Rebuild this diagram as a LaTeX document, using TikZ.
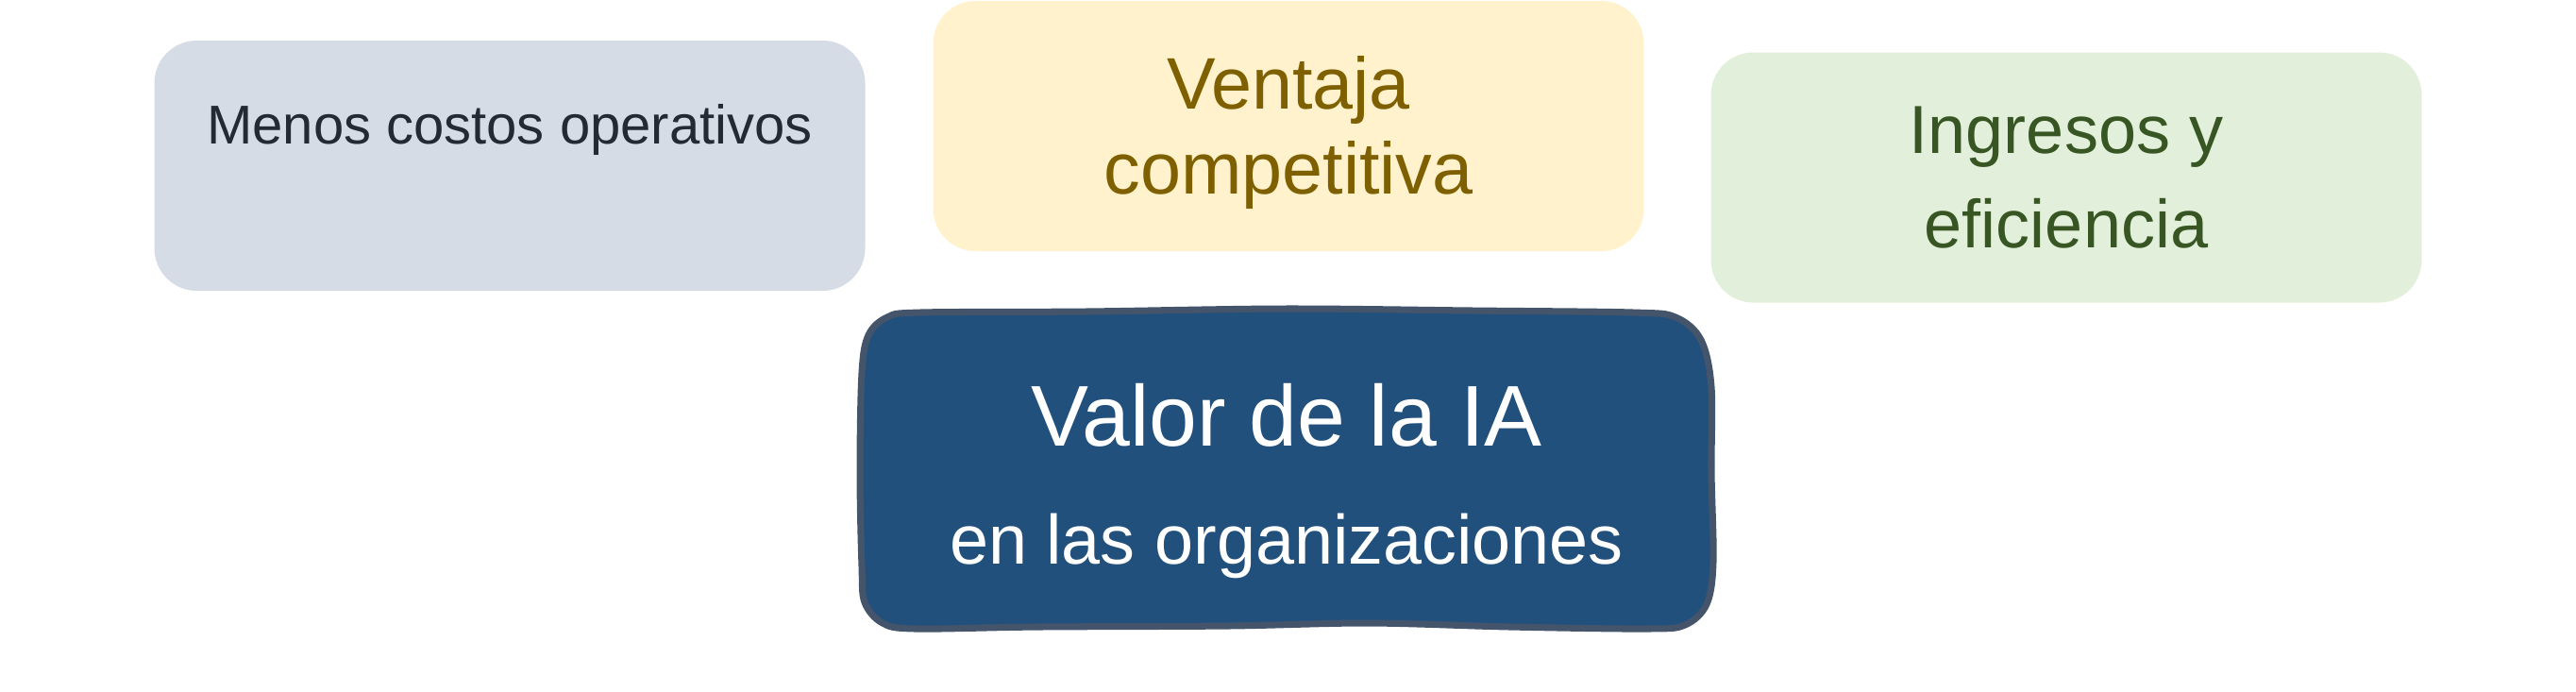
\documentclass[tikz,border=0pt]{standalone}
\usepackage{fontspec}
\setmainfont{Liberation Sans}
\usepackage{tikz}
\usetikzlibrary{positioning}
\definecolor{costgray}{RGB}{214, 220, 229}
\definecolor{costtext}{RGB}{34, 42, 53}
\definecolor{ventyellow}{RGB}{255, 242, 204}
\definecolor{venttext}{RGB}{127, 96, 0}
\definecolor{ingrgreen}{RGB}{226, 239, 218}
\definecolor{ingrtext}{RGB}{55, 86, 35}
\definecolor{valorblue}{RGB}{34, 80, 124}
\definecolor{valorline}{RGB}{68, 84, 106}

\begin{document}
\begin{tikzpicture}[
  topbox/.style={rounded corners=0.45cm, minimum width=7.53cm, minimum height=2.65cm, inner sep=0, align=center},
  valorshape/.style={fill=valorblue, draw=valorline, line width=2pt, line join=round},
  valortext/.style={inner sep=0, align=center, text=white},
]
\useasboundingbox (0, 0) rectangle (27.29, -7.32);

% ==================== top row ====================
\node[topbox, fill=costgray, text=costtext, font=\fontsize{16.5}{20}\selectfont,
  text height=0.42cm, text depth=0.89cm] (costos) at (5.40, -1.755) {Menos costos operativos};
\node[topbox, fill=ventyellow, text=venttext, font=\fontsize{22}{25.85}\selectfont] (ventaja) at (13.65, -1.335)
  {\rule{0pt}{0.70cm}Ventaja\\competitiva};
\node[topbox, fill=ingrgreen, text=ingrtext, font=\fontsize{20.5}{28.4}\selectfont] (ingresos) at (21.89, -1.88)
  {Ingresos y\\eficiencia};

% ==================== center (hand-drawn frame) ====================
\path[valorshape] plot[smooth cycle, tension=0.55] coordinates {
  (9.13, -3.95) (9.20, -3.55) (9.40, -3.36) (9.75, -3.31)
  (11.50, -3.30) (13.60, -3.27) (15.60, -3.29) (17.30, -3.31)
  (17.75, -3.36) (18.02, -3.60) (18.13, -4.10)
  (18.13, -5.00) (18.15, -5.95)
  (18.08, -6.40) (17.85, -6.62) (17.45, -6.66)
  (16.00, -6.64) (14.50, -6.60) (13.00, -6.63) (11.00, -6.64) (9.70, -6.66)
  (9.35, -6.60) (9.16, -6.38) (9.13, -6.00)
  (9.11, -5.00)};
\node[valortext, font=\fontsize{21}{35.6}\selectfont] (valor) at (13.63, -4.99)
  {{\fontsize{26}{31}\selectfont\rule{0pt}{0.88cm}Valor de la IA}\\en las organizaciones};

\end{tikzpicture}
\end{document}
